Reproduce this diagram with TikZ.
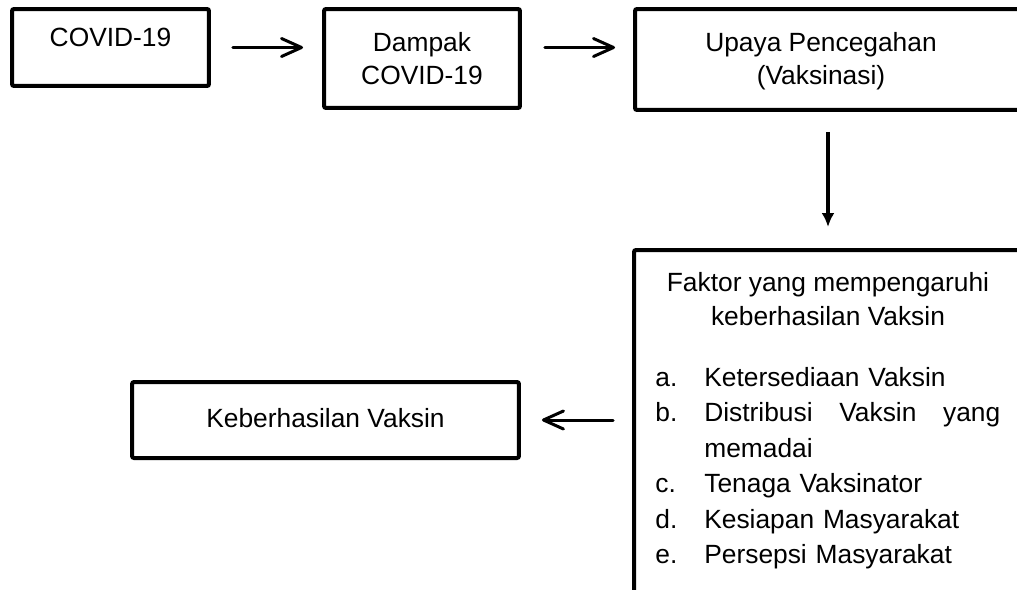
\documentclass[tikz,border=0pt]{standalone}
\usepackage{fontspec}
\setmainfont{Liberation Sans}
\usetikzlibrary{arrows.meta,positioning}

\begin{document}
\begin{tikzpicture}[x=0.02cm, y=-0.02cm,
    frame/.style={draw, line width=0.08cm, rounded corners=0.04cm, outer sep=0pt, inner sep=0pt},
    txt/.style={inner sep=0pt, align=center, font=\fontsize{15}{19}\selectfont},
    flow/.style={line width=0.06cm, line cap=round, -{Straight Barb[length=0.4cm, width=0.36cm, round]}},
    flowdown/.style={line width=0.07cm, -{Latex[length=0.28cm, width=0.26cm]}}]

    % Fix the page
    \useasboundingbox (0,0) rectangle (1017,589);
    \clip (0,0) rectangle (1017,589);

    % Draw the boxes
    \node[frame, minimum width=3.94cm, minimum height=1.54cm] (covid) at (110.5,47.5) {};
    \node[frame, minimum width=3.92cm, minimum height=1.98cm] (dampak) at (422,58.5) {};
    \node[frame, anchor=north west, minimum width=8.5cm, minimum height=2.02cm] (upaya) at (635,9) {};
    \node[frame, anchor=north west, minimum width=8.5cm, minimum height=8cm] (faktor) at (634,250) {};
    \node[frame, minimum width=7.74cm, minimum height=1.52cm] (hasil) at (325.5,420) {};

    % Texts in the boxes
    \node[txt, anchor=north] (covidtext) at (110.5,28) {COVID-19};
    \node[txt, anchor=north] (dampaktext) at (422,32) {Dampak\\COVID-19};
    \node[txt, anchor=north] (upayatext) at (821,32) {Upaya Pencegahan\\(Vaksinasi)};
    \node[txt, anchor=north] (hasiltext) at (325.5,408) {Keberhasilan Vaksin};
    \node[txt, anchor=north, font=\fontsize{15}{19.4}\selectfont] (faktortitle) at (828,272)
        {Faktor yang mempengaruhi\\keberhasilan Vaksin};

    % List of the factors
    \node[inner sep=0pt, anchor=north west, text width=6.9cm, align=left,
        font=\fontsize{15}{20.2}\selectfont] (faktorlist) at (655,367) {%
        \noindent\makebox[0.98cm][l]{a.}Ketersediaan Vaksin\par
        \noindent\hangindent=0.98cm\hangafter=1\makebox[0.98cm][l]{b.}Distribusi\hfill Vaksin\hfill yang\break memadai\par
        \noindent\makebox[0.98cm][l]{c.}Tenaga Vaksinator\par
        \noindent\makebox[0.98cm][l]{d.}Kesiapan Masyarakat\par
        \noindent\makebox[0.98cm][l]{e.}Persepsi Masyarakat\par};

    % Draw the arrows between the boxes
    \draw[flow, shorten <=0.48cm, shorten >=0.42cm] (covid.east) -- (dampak.west |- covid.east);
    \draw[flow, shorten <=0.5cm, shorten >=0.4cm] (dampak.east |- covid.east) -- (upaya.west |- covid.east);
    \draw[flowdown, shorten <=0.44cm, shorten >=0.46cm] (faktortitle.north |- upaya.south) -- (faktortitle.north |- faktor.north);
    \draw[flow, shorten <=0.42cm, shorten >=0.46cm] (faktor.west |- hasil.east) -- (hasil.east);

\end{tikzpicture}
\end{document}
